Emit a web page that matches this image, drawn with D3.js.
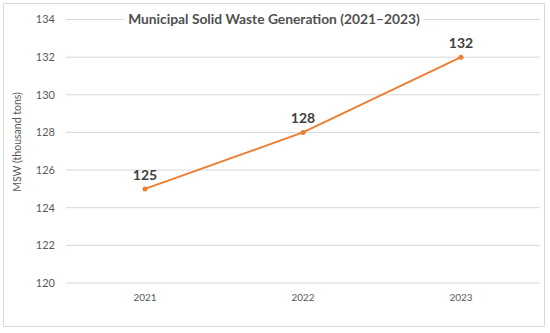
<!DOCTYPE html>
<html lang="en">
<head>
    <meta charset="UTF-8">
    <title>Municipal Solid Waste Generation</title>
    <script src="https://cdnjs.cloudflare.com/ajax/libs/d3/7.8.5/d3.min.js"></script>
    <style>
        body { margin: 0; background: #fff; font-family: Lato, "Open Sans", sans-serif; }
    </style>
</head>
<body>
    <div id="chart"></div>
    <script>
        const years = ["2021", "2022", "2023"];
        const msw = [125, 128, 132];
        const yTicks = [120, 122, 124, 126, 128, 130, 132, 134];

        const width = 550, height = 333;

        const svg = d3.select("#chart").append("svg")
            .attr("width", width)
            .attr("height", height);

        // outer frame
        svg.append("rect")
            .attr("x", 3.5).attr("y", 3.5)
            .attr("width", 541).attr("height", 323)
            .attr("fill", "#fff")
            .attr("stroke", "#d9d9d9");

        const x = d3.scaleBand()
            .domain(years)
            .range([66, 540]);

        const y = d3.scaleLinear()
            .domain([120, 134])
            .range([283, 19.5]);

        // gridlines
        svg.append("g")
            .selectAll("line")
            .data(yTicks)
            .join("line")
            .attr("x1", 66).attr("x2", 540)
            .attr("y1", d => y(d)).attr("y2", d => y(d))
            .attr("stroke", "#d9d9d9")
            .attr("stroke-width", 1);

        // y tick labels
        svg.append("g")
            .selectAll("text")
            .data(yTicks)
            .join("text")
            .attr("x", 55)
            .attr("y", d => y(d))
            .attr("dy", "0.35em")
            .attr("text-anchor", "end")
            .attr("fill", "#595959")
            .style("font-size", "11px")
            .text(d => d);

        // x labels
        svg.append("g")
            .selectAll("text")
            .data(years)
            .join("text")
            .attr("x", d => x(d) + x.bandwidth() / 2)
            .attr("y", 301)
            .attr("text-anchor", "middle")
            .attr("fill", "#595959")
            .style("font-size", "10px")
            .text(d => d);

        // y axis title
        svg.append("text")
            .attr("transform", "translate(21,142) rotate(-90)")
            .attr("text-anchor", "middle")
            .attr("fill", "#595959")
            .style("font-size", "10.5px")
            .text("MSW (thousand tons)");

        const pts = years.map((d, i) => ({ year: d, value: msw[i] }));
        const cx = d => x(d.year) + x.bandwidth() / 2;

        svg.append("path")
            .datum(pts)
            .attr("fill", "none")
            .attr("stroke", "#ed7d31")
            .attr("stroke-width", 2)
            .attr("d", d3.line().x(cx).y(d => y(d.value)));

        svg.append("g")
            .selectAll("circle")
            .data(pts)
            .join("circle")
            .attr("cx", cx)
            .attr("cy", d => y(d.value))
            .attr("r", 2.5)
            .attr("fill", "#ed7d31");

        svg.append("g")
            .selectAll("text")
            .data(pts)
            .join("text")
            .attr("x", cx)
            .attr("y", d => y(d.value) - 9)
            .attr("text-anchor", "middle")
            .attr("fill", "#404040")
            .style("font-size", "14px")
            .style("font-weight", "bold")
            .text(d => d.value);

        // title with white backing over the top gridline
        const title = svg.append("text")
            .attr("x", 274)
            .attr("y", 24)
            .attr("text-anchor", "middle")
            .attr("fill", "#505050")
            .style("font-size", "13.8px")
            .style("font-weight", "bold")
            .text("Municipal Solid Waste Generation (2021–2023)");
        const bb = title.node().getBBox();
        svg.insert("rect", () => title.node())
            .attr("x", bb.x - 3).attr("y", bb.y)
            .attr("width", bb.width + 6).attr("height", bb.height)
            .attr("fill", "#fff");
    </script>
</body>
</html>
